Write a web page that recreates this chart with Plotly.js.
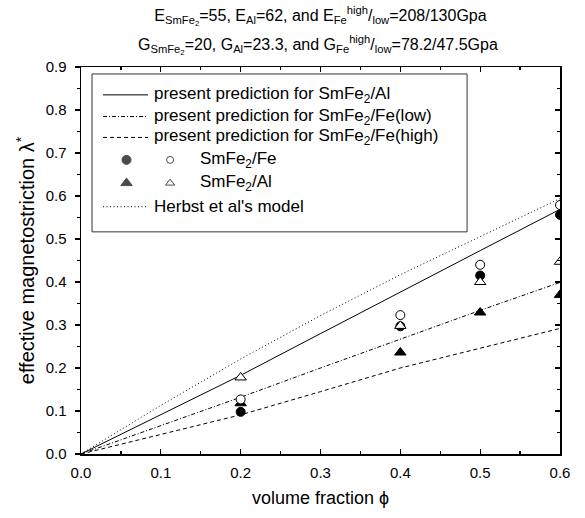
<!DOCTYPE html>
<html><head><meta charset="utf-8">
<script src="https://cdn.plot.ly/plotly-3.0.1.min.js"></script>
<style>html,body{margin:0;padding:0;background:#fff}</style>
</head><body><div id="chart" style="width:585px;height:518px"></div>
<script>
// ---- data ----
const fractionGrid = [0, 0.1, 0.2, 0.3, 0.4, 0.5, 0.6];
const predAl     = [0, 0.092, 0.183, 0.280, 0.377, 0.473, 0.569];
const predFeLow  = [0, 0.066, 0.132, 0.200, 0.267, 0.334, 0.399];
const predFeHigh = [0, 0.046, 0.091, 0.145, 0.200, 0.246, 0.292];
const herbst     = [0, 0.113, 0.221, 0.322, 0.417, 0.505, 0.594];

const expFraction = [0.2, 0.4, 0.5, 0.6];
const feFilled = [0.098, 0.297, 0.415, 0.556];
const feOpen   = [0.127, 0.323, 0.440, 0.579];
const alFilled = [0.118, 0.236, 0.329, 0.370];
const alOpen   = [0.178, 0.298, 0.400, 0.447];

const legendLabels = [
  "present prediction for SmFe<sub>2</sub>/Al",
  "present prediction for SmFe<sub>2</sub>/Fe(low)",
  "present prediction for SmFe<sub>2</sub>/Fe(high)",
  "SmFe<sub>2</sub>/Fe",
  "SmFe<sub>2</sub>/Al",
  "Herbst et al's model"
];
const titleLine1 = "E<sub>SmFe<sub>2</sub></sub>=55, E<sub>Al</sub>=62, and E<sub>Fe</sub><sup>high</sup>/<sub>low</sub>=208/130Gpa";
const titleLine2 = "G<sub>SmFe<sub>2</sub></sub>=20, G<sub>Al</sub>=23.3, and G<sub>Fe</sub><sup>high</sup>/<sub>low</sub>=78.2/47.5Gpa";
const xTitle = "volume fraction ϕ";
const yTitle = "effective magnetostriction λ<sup>*</sup>";

// ---- styles ----
const FONT = "Liberation Sans, Arial, Helvetica, sans-serif";
const dashAl = "solid", dashLow = "4px,2px,1px,2px", dashHigh = "4px,3px", dashHerbst = "1px,2.5px";

function lineTrace(y, dash) {
  return {x: fractionGrid, y: y, type: "scatter", mode: "lines",
          line: {color: "#000", width: 1, dash: dash}, showlegend: false, hoverinfo: "skip"};
}
function markerTrace(y, symbol, size, filled) {
  return {x: expFraction, y: y, type: "scatter", mode: "markers", showlegend: false,
          marker: {symbol: symbol, size: size, color: filled ? "#000" : "#fff",
                   line: {color: "#000", width: 1}}};
}

// legend geometry (paper coords of plot area)
const rowY = [0.928, 0.872, 0.818, 0.760, 0.700, 0.639];
const lx0 = 0.046, lx1 = 0.140, textX = 0.148, textX2 = 0.245, mkX1 = 0.095, mkX2 = 0.186;

const traces = [
  lineTrace(herbst, dashHerbst),
  lineTrace(predAl, dashAl),
  lineTrace(predFeLow, dashLow),
  lineTrace(predFeHigh, dashHigh),
  markerTrace(alFilled, "triangle-up", 10, true),
  markerTrace(feFilled, "circle", 9, true),
  markerTrace(feOpen, "circle", 9, false),
  markerTrace(alOpen, "triangle-up", 10, false),
  {x: [mkX1, mkX2, mkX1, mkX2], y: [rowY[3], rowY[3], rowY[4], rowY[4]],
   xaxis: "x2", yaxis: "y2", type: "scatter", mode: "markers", showlegend: false, hoverinfo: "skip",
   marker: {symbol: ["circle", "circle", "triangle-up", "triangle-up"], size: [9, 7, 10, 8],
            color: ["#000", "#fff", "#000", "#fff"], line: {color: "#000", width: 1}}},
  {x: [null], y: [null], yaxis: "y3", type: "scatter", mode: "markers", showlegend: false, hoverinfo: "skip"}
];

const shapes = [
  {type: "rect", xref: "paper", yref: "paper", x0: 0.023, x1: 0.806, y0: 0.574, y1: 0.982,
   line: {color: "#333", width: 1}, fillcolor: "#fff", layer: "below"}
];
[[0, dashAl], [1, dashLow], [2, dashHigh], [5, dashHerbst]].forEach(([i, d]) => {
  shapes.push({type: "line", xref: "paper", yref: "paper", x0: lx0, x1: lx1, y0: rowY[i], y1: rowY[i],
               line: {color: "#000", width: 1, dash: d}});
});
const annotations = legendLabels.map((t, i) => ({
  text: t, xref: "paper", yref: "paper", x: (i === 3 || i === 4) ? textX2 : textX, y: rowY[i],
  xanchor: "left", yanchor: "middle", showarrow: false, font: {family: FONT, size: 17, color: "#000"}
}));
annotations.push({text: titleLine2, xref: "paper", yref: "paper", x: 0.495, y: 1.058,
  xanchor: "center", yanchor: "middle", showarrow: false, font: {family: FONT, size: 16, color: "#000"}});

const layout = {
  width: 585, height: 518,
  margin: {l: 81, r: 25, t: 67, b: 64},
  paper_bgcolor: "#fff", plot_bgcolor: "#fff",
  font: {family: FONT, color: "#000", size: 15},
  title: {text: titleLine1, x: 0.5, xref: "paper", xanchor: "center", y: 1 - 15 / 518, yref: "container", yanchor: "middle",
          font: {family: FONT, size: 16, color: "#000"}},
  xaxis: {range: [0, 0.6], dtick: 0.1, tick0: 0, tickformat: ".1f", showgrid: false, zeroline: false,
          showline: true, linecolor: "#000", linewidth: 1.5, mirror: "ticks",
          ticks: "inside", ticklen: 5, tickwidth: 1.2, tickcolor: "#000", ticklabelstandoff: 4,
          minor: {dtick: 0.05, ticks: "inside", ticklen: 3, tickwidth: 1.2, tickcolor: "#000", showgrid: false},
          tickfont: {family: FONT, size: 15},
          title: {text: xTitle, font: {family: FONT, size: 18}, standoff: 12}},
  yaxis: {range: [0, 0.9], dtick: 0.1, tick0: 0, tickformat: ".1f", showgrid: false, zeroline: false,
          showline: true, linecolor: "#000", linewidth: 1.5,
          ticks: "outside", ticklen: 5, tickwidth: 1.2, tickcolor: "#000", ticklabelstandoff: 5,
          minor: {dtick: 0.05, ticks: "outside", ticklen: 3, tickwidth: 1.2, tickcolor: "#000", showgrid: false},
          tickfont: {family: FONT, size: 15},
          title: {text: yTitle, font: {family: FONT, size: 20}, standoff: 5}},
  yaxis3: {overlaying: "y", side: "right", range: [0, 0.9], dtick: 0.1, tick0: 0, showgrid: false, zeroline: false,
           showline: true, linecolor: "#000", linewidth: 1.5, showticklabels: false,
           ticks: "inside", ticklen: 5, tickwidth: 1.2, tickcolor: "#000",
           minor: {dtick: 0.05, ticks: "inside", ticklen: 3, tickwidth: 1.2, tickcolor: "#000", showgrid: false}},
  xaxis2: {overlaying: "x", range: [0, 1], visible: false, fixedrange: true},
  yaxis2: {overlaying: "y", range: [0, 1], visible: false, fixedrange: true},
  shapes: shapes,
  annotations: annotations,
  showlegend: false
};

Plotly.newPlot("chart", traces, layout, {displayModeBar: false, staticPlot: true});
</script></body></html>
